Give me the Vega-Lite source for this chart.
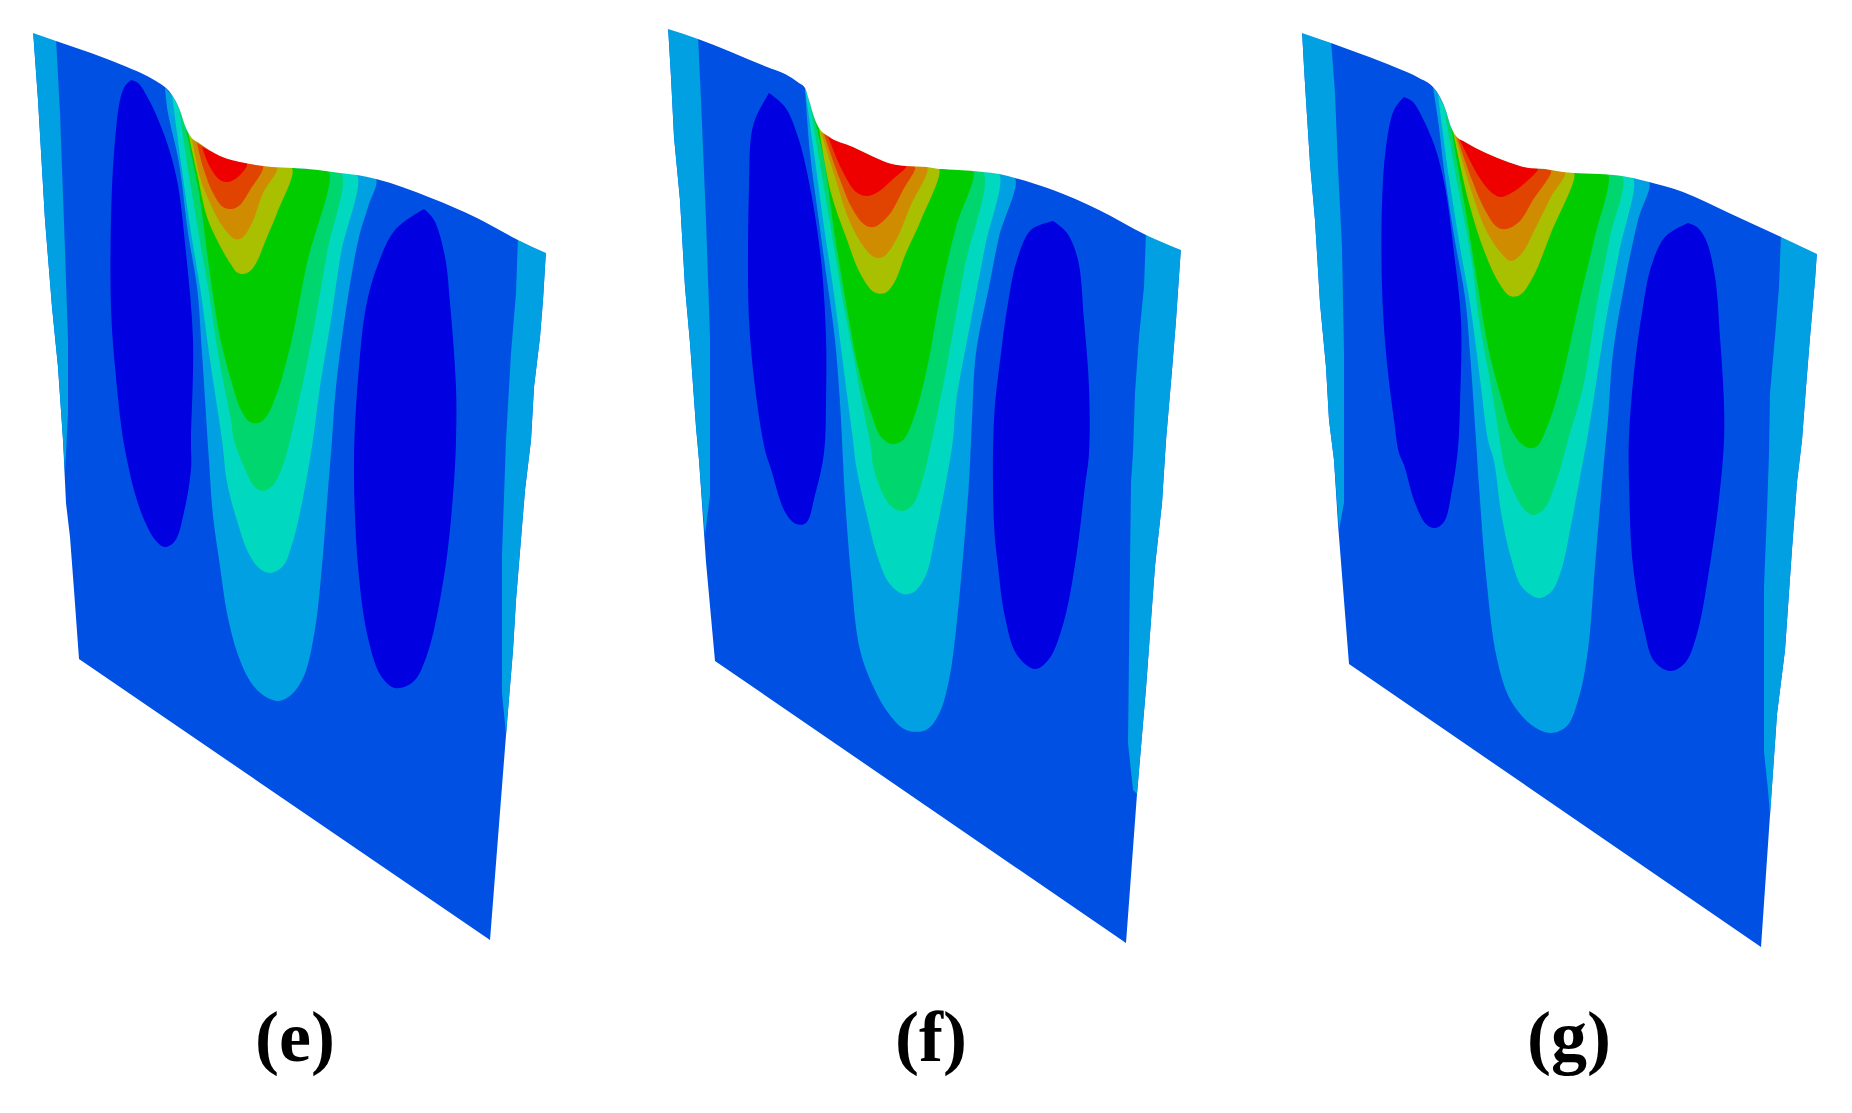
{"$schema":"https://vega.github.io/schema/vega-lite/v6.json","autosize":{"type":"fit","contains":"padding"},"width":1852,"height":1113,"padding":0,"background":"#ffffff","config":{"view":{"stroke":null}},
"data":{"values":[
{"p":"e0","b":"B","x":33,"y":30},{"p":"e0","b":"B","x":56,"y":38},{"p":"e0","b":"B","x":91,"y":50},{"p":"e0","b":"B","x":127,"y":64},{"p":"e0","b":"B","x":145,"y":72},{"p":"e0","b":"B","x":159,"y":80},{"p":"e0","b":"B","x":166,"y":85},{"p":"e0","b":"B","x":172,"y":92},{"p":"e0","b":"B","x":179,"y":105},{"p":"e0","b":"B","x":186,"y":125},{"p":"e0","b":"B","x":191,"y":134},{"p":"e0","b":"B","x":199,"y":140},{"p":"e0","b":"B","x":220,"y":153},{"p":"e0","b":"B","x":245,"y":160},{"p":"e0","b":"B","x":272,"y":164},{"p":"e0","b":"B","x":293,"y":165},{"p":"e0","b":"B","x":318,"y":167},{"p":"e0","b":"B","x":340,"y":170},{"p":"e0","b":"B","x":357,"y":172},{"p":"e0","b":"B","x":376,"y":176},{"p":"e0","b":"B","x":431,"y":195},{"p":"e0","b":"B","x":477,"y":215},{"p":"e0","b":"B","x":518,"y":237},{"p":"e0","b":"B","x":546,"y":250},{"p":"e0","b":"B","x":543,"y":300},{"p":"e0","b":"B","x":540,"y":337},{"p":"e0","b":"B","x":534,"y":387},{"p":"e0","b":"B","x":531,"y":440},{"p":"e0","b":"B","x":525,"y":490},{"p":"e0","b":"B","x":516,"y":600},{"p":"e0","b":"B","x":513,"y":650},{"p":"e0","b":"B","x":506,"y":735},{"p":"e0","b":"B","x":490,"y":940},{"p":"e0","b":"B","x":79,"y":659},{"p":"e0","b":"B","x":74,"y":590},{"p":"e0","b":"B","x":70,"y":537},{"p":"e0","b":"B","x":66,"y":503},{"p":"e0","b":"B","x":63,"y":440},{"p":"e0","b":"B","x":58,"y":367},{"p":"e0","b":"B","x":52,"y":307},{"p":"e0","b":"B","x":45,"y":220},{"p":"e0","b":"B","x":38,"y":100},
{"p":"e1","b":"L","x":33,"y":30},{"p":"e1","b":"L","x":56,"y":38},{"p":"e1","b":"L","x":60,"y":113},{"p":"e1","b":"L","x":65,"y":250},{"p":"e1","b":"L","x":68,"y":340},{"p":"e1","b":"L","x":68,"y":413},{"p":"e1","b":"L","x":66,"y":453},{"p":"e1","b":"L","x":65,"y":472},{"p":"e1","b":"L","x":63,"y":440},{"p":"e1","b":"L","x":58,"y":367},{"p":"e1","b":"L","x":52,"y":307},{"p":"e1","b":"L","x":45,"y":220},{"p":"e1","b":"L","x":38,"y":100},
{"p":"e2","b":"L","x":518,"y":237},{"p":"e2","b":"L","x":546,"y":250},{"p":"e2","b":"L","x":543,"y":300},{"p":"e2","b":"L","x":540,"y":337},{"p":"e2","b":"L","x":534,"y":387},{"p":"e2","b":"L","x":531,"y":440},{"p":"e2","b":"L","x":525,"y":490},{"p":"e2","b":"L","x":516,"y":600},{"p":"e2","b":"L","x":513,"y":650},{"p":"e2","b":"L","x":506,"y":735},{"p":"e2","b":"L","x":502,"y":693},{"p":"e2","b":"L","x":502,"y":554},{"p":"e2","b":"L","x":506,"y":440},{"p":"e2","b":"L","x":511,"y":353},{"p":"e2","b":"L","x":516,"y":293},
{"p":"e3","b":"D","x":131,"y":80},{"p":"e3","b":"D","x":138,"y":83},{"p":"e3","b":"D","x":149,"y":100},{"p":"e3","b":"D","x":165,"y":137},{"p":"e3","b":"D","x":177,"y":180},{"p":"e3","b":"D","x":186,"y":253},{"p":"e3","b":"D","x":193,"y":340},{"p":"e3","b":"D","x":191,"y":440},{"p":"e3","b":"D","x":191,"y":469},{"p":"e3","b":"D","x":184,"y":512},{"p":"e3","b":"D","x":175,"y":541},{"p":"e3","b":"D","x":165,"y":547},{"p":"e3","b":"D","x":156,"y":541},{"p":"e3","b":"D","x":141,"y":512},{"p":"e3","b":"D","x":125,"y":450},{"p":"e3","b":"D","x":115,"y":367},{"p":"e3","b":"D","x":111,"y":307},{"p":"e3","b":"D","x":111,"y":220},{"p":"e3","b":"D","x":114,"y":153},{"p":"e3","b":"D","x":120,"y":100},{"p":"e3","b":"D","x":125,"y":86},{"p":"e3","b":"D","x":131,"y":80},
{"p":"e4","b":"D","x":424,"y":209},{"p":"e4","b":"D","x":395,"y":230},{"p":"e4","b":"D","x":377,"y":267},{"p":"e4","b":"D","x":366,"y":307},{"p":"e4","b":"D","x":359,"y":367},{"p":"e4","b":"D","x":354,"y":460},{"p":"e4","b":"D","x":358,"y":566},{"p":"e4","b":"D","x":368,"y":638},{"p":"e4","b":"D","x":381,"y":676},{"p":"e4","b":"D","x":395,"y":688},{"p":"e4","b":"D","x":413,"y":682},{"p":"e4","b":"D","x":427,"y":655},{"p":"e4","b":"D","x":445,"y":570},{"p":"e4","b":"D","x":454,"y":482},{"p":"e4","b":"D","x":456,"y":440},{"p":"e4","b":"D","x":456,"y":387},{"p":"e4","b":"D","x":450,"y":303},{"p":"e4","b":"D","x":445,"y":257},{"p":"e4","b":"D","x":434,"y":220},{"p":"e4","b":"D","x":424,"y":209},
{"p":"e5","b":"L","x":165,"y":88},{"p":"e5","b":"L","x":168,"y":113},{"p":"e5","b":"L","x":179,"y":163},{"p":"e5","b":"L","x":188,"y":233},{"p":"e5","b":"L","x":197,"y":287},{"p":"e5","b":"L","x":202,"y":353},{"p":"e5","b":"L","x":209,"y":460},{"p":"e5","b":"L","x":213,"y":516},{"p":"e5","b":"L","x":220,"y":566},{"p":"e5","b":"L","x":227,"y":613},{"p":"e5","b":"L","x":238,"y":655},{"p":"e5","b":"L","x":252,"y":684},{"p":"e5","b":"L","x":266,"y":697},{"p":"e5","b":"L","x":279,"y":701},{"p":"e5","b":"L","x":291,"y":695},{"p":"e5","b":"L","x":304,"y":676},{"p":"e5","b":"L","x":315,"y":629},{"p":"e5","b":"L","x":322,"y":566},{"p":"e5","b":"L","x":327,"y":503},{"p":"e5","b":"L","x":332,"y":440},{"p":"e5","b":"L","x":336,"y":387},{"p":"e5","b":"L","x":347,"y":303},{"p":"e5","b":"L","x":359,"y":237},{"p":"e5","b":"L","x":368,"y":207},{"p":"e5","b":"L","x":376,"y":179},{"p":"e5","b":"L","x":357,"y":175},{"p":"e5","b":"L","x":340,"y":173},{"p":"e5","b":"L","x":318,"y":170},{"p":"e5","b":"L","x":293,"y":168},{"p":"e5","b":"L","x":272,"y":167},{"p":"e5","b":"L","x":245,"y":163},{"p":"e5","b":"L","x":220,"y":156},{"p":"e5","b":"L","x":199,"y":143},{"p":"e5","b":"L","x":191,"y":137},{"p":"e5","b":"L","x":186,"y":128},{"p":"e5","b":"L","x":179,"y":108},{"p":"e5","b":"L","x":172,"y":95},
{"p":"e6","b":"C","x":172,"y":95},{"p":"e6","b":"C","x":181,"y":163},{"p":"e6","b":"C","x":191,"y":233},{"p":"e6","b":"C","x":200,"y":287},{"p":"e6","b":"C","x":209,"y":353},{"p":"e6","b":"C","x":222,"y":440},{"p":"e6","b":"C","x":227,"y":482},{"p":"e6","b":"C","x":238,"y":524},{"p":"e6","b":"C","x":249,"y":554},{"p":"e6","b":"C","x":259,"y":568},{"p":"e6","b":"C","x":270,"y":573},{"p":"e6","b":"C","x":283,"y":566},{"p":"e6","b":"C","x":293,"y":541},{"p":"e6","b":"C","x":302,"y":503},{"p":"e6","b":"C","x":311,"y":453},{"p":"e6","b":"C","x":313,"y":440},{"p":"e6","b":"C","x":320,"y":387},{"p":"e6","b":"C","x":331,"y":320},{"p":"e6","b":"C","x":341,"y":253},{"p":"e6","b":"C","x":357,"y":175},{"p":"e6","b":"C","x":340,"y":173},{"p":"e6","b":"C","x":318,"y":170},{"p":"e6","b":"C","x":293,"y":168},{"p":"e6","b":"C","x":272,"y":167},{"p":"e6","b":"C","x":245,"y":163},{"p":"e6","b":"C","x":220,"y":156},{"p":"e6","b":"C","x":199,"y":143},{"p":"e6","b":"C","x":191,"y":137},{"p":"e6","b":"C","x":186,"y":128},{"p":"e6","b":"C","x":179,"y":108},
{"p":"e7","b":"M","x":179,"y":108},{"p":"e7","b":"M","x":191,"y":187},{"p":"e7","b":"M","x":202,"y":253},{"p":"e7","b":"M","x":209,"y":293},{"p":"e7","b":"M","x":218,"y":353},{"p":"e7","b":"M","x":231,"y":420},{"p":"e7","b":"M","x":234,"y":440},{"p":"e7","b":"M","x":245,"y":469},{"p":"e7","b":"M","x":254,"y":486},{"p":"e7","b":"M","x":263,"y":491},{"p":"e7","b":"M","x":274,"y":484},{"p":"e7","b":"M","x":283,"y":465},{"p":"e7","b":"M","x":290,"y":440},{"p":"e7","b":"M","x":309,"y":353},{"p":"e7","b":"M","x":327,"y":253},{"p":"e7","b":"M","x":341,"y":173},{"p":"e7","b":"M","x":318,"y":170},{"p":"e7","b":"M","x":293,"y":168},{"p":"e7","b":"M","x":272,"y":167},{"p":"e7","b":"M","x":245,"y":163},{"p":"e7","b":"M","x":220,"y":156},{"p":"e7","b":"M","x":199,"y":143},{"p":"e7","b":"M","x":191,"y":137},{"p":"e7","b":"M","x":186,"y":128},
{"p":"e8","b":"V","x":186,"y":130},{"p":"e8","b":"V","x":199,"y":193},{"p":"e8","b":"V","x":209,"y":267},{"p":"e8","b":"V","x":220,"y":337},{"p":"e8","b":"V","x":231,"y":380},{"p":"e8","b":"V","x":241,"y":410},{"p":"e8","b":"V","x":250,"y":422},{"p":"e8","b":"V","x":258,"y":423},{"p":"e8","b":"V","x":266,"y":417},{"p":"e8","b":"V","x":277,"y":393},{"p":"e8","b":"V","x":291,"y":343},{"p":"e8","b":"V","x":307,"y":263},{"p":"e8","b":"V","x":329,"y":172},{"p":"e8","b":"V","x":318,"y":170},{"p":"e8","b":"V","x":293,"y":168},{"p":"e8","b":"V","x":272,"y":167},{"p":"e8","b":"V","x":245,"y":163},{"p":"e8","b":"V","x":220,"y":156},{"p":"e8","b":"V","x":199,"y":143},{"p":"e8","b":"V","x":191,"y":137},
{"p":"e9","b":"Y","x":188,"y":132},{"p":"e9","b":"Y","x":197,"y":173},{"p":"e9","b":"Y","x":207,"y":217},{"p":"e9","b":"Y","x":217,"y":240},{"p":"e9","b":"Y","x":230,"y":263},{"p":"e9","b":"Y","x":238,"y":273},{"p":"e9","b":"Y","x":247,"y":273},{"p":"e9","b":"Y","x":255,"y":265},{"p":"e9","b":"Y","x":267,"y":237},{"p":"e9","b":"Y","x":277,"y":213},{"p":"e9","b":"Y","x":292,"y":168},{"p":"e9","b":"Y","x":272,"y":167},{"p":"e9","b":"Y","x":245,"y":163},{"p":"e9","b":"Y","x":220,"y":156},{"p":"e9","b":"Y","x":199,"y":143},{"p":"e9","b":"Y","x":191,"y":137},
{"p":"ea","b":"O","x":192,"y":138},{"p":"ea","b":"O","x":200,"y":177},{"p":"ea","b":"O","x":210,"y":203},{"p":"ea","b":"O","x":223,"y":227},{"p":"ea","b":"O","x":235,"y":239},{"p":"ea","b":"O","x":242,"y":238},{"p":"ea","b":"O","x":252,"y":223},{"p":"ea","b":"O","x":263,"y":193},{"p":"ea","b":"O","x":277,"y":167},{"p":"ea","b":"O","x":245,"y":163},{"p":"ea","b":"O","x":220,"y":156},{"p":"ea","b":"O","x":199,"y":143},
{"p":"eb","b":"R","x":197,"y":143},{"p":"eb","b":"R","x":203,"y":167},{"p":"eb","b":"R","x":213,"y":193},{"p":"eb","b":"R","x":223,"y":207},{"p":"eb","b":"R","x":232,"y":209},{"p":"eb","b":"R","x":240,"y":205},{"p":"eb","b":"R","x":250,"y":190},{"p":"eb","b":"R","x":263,"y":166},{"p":"eb","b":"R","x":245,"y":163},{"p":"eb","b":"R","x":220,"y":156},
{"p":"ec","b":"X","x":202,"y":147},{"p":"ec","b":"X","x":210,"y":167},{"p":"ec","b":"X","x":220,"y":180},{"p":"ec","b":"X","x":228,"y":182},{"p":"ec","b":"X","x":238,"y":177},{"p":"ec","b":"X","x":247,"y":163},{"p":"ec","b":"X","x":220,"y":156},
{"p":"f0","b":"B","x":668,"y":26},{"p":"f0","b":"B","x":698,"y":36},{"p":"f0","b":"B","x":731,"y":49},{"p":"f0","b":"B","x":767,"y":64},{"p":"f0","b":"B","x":785,"y":71},{"p":"f0","b":"B","x":799,"y":80},{"p":"f0","b":"B","x":805,"y":85},{"p":"f0","b":"B","x":809,"y":97},{"p":"f0","b":"B","x":814,"y":114},{"p":"f0","b":"B","x":819,"y":125},{"p":"f0","b":"B","x":828,"y":133},{"p":"f0","b":"B","x":853,"y":144},{"p":"f0","b":"B","x":874,"y":154},{"p":"f0","b":"B","x":892,"y":161},{"p":"f0","b":"B","x":906,"y":163},{"p":"f0","b":"B","x":927,"y":164},{"p":"f0","b":"B","x":939,"y":166},{"p":"f0","b":"B","x":958,"y":167},{"p":"f0","b":"B","x":983,"y":169},{"p":"f0","b":"B","x":999,"y":171},{"p":"f0","b":"B","x":1015,"y":175},{"p":"f0","b":"B","x":1053,"y":187},{"p":"f0","b":"B","x":1099,"y":207},{"p":"f0","b":"B","x":1146,"y":232},{"p":"f0","b":"B","x":1181,"y":247},{"p":"f0","b":"B","x":1176,"y":320},{"p":"f0","b":"B","x":1172,"y":370},{"p":"f0","b":"B","x":1166,"y":440},{"p":"f0","b":"B","x":1162,"y":503},{"p":"f0","b":"B","x":1155,"y":566},{"p":"f0","b":"B","x":1146,"y":688},{"p":"f0","b":"B","x":1137,"y":794},{"p":"f0","b":"B","x":1126,"y":943},{"p":"f0","b":"B","x":715,"y":661},{"p":"f0","b":"B","x":706,"y":562},{"p":"f0","b":"B","x":699,"y":460},{"p":"f0","b":"B","x":696,"y":427},{"p":"f0","b":"B","x":690,"y":343},{"p":"f0","b":"B","x":685,"y":287},{"p":"f0","b":"B","x":680,"y":200},{"p":"f0","b":"B","x":674,"y":137},{"p":"f0","b":"B","x":671,"y":77},
{"p":"f1","b":"L","x":668,"y":26},{"p":"f1","b":"L","x":698,"y":36},{"p":"f1","b":"L","x":701,"y":100},{"p":"f1","b":"L","x":706,"y":220},{"p":"f1","b":"L","x":710,"y":337},{"p":"f1","b":"L","x":710,"y":495},{"p":"f1","b":"L","x":705,"y":535},{"p":"f1","b":"L","x":702,"y":500},{"p":"f1","b":"L","x":699,"y":460},{"p":"f1","b":"L","x":696,"y":427},{"p":"f1","b":"L","x":690,"y":343},{"p":"f1","b":"L","x":685,"y":287},{"p":"f1","b":"L","x":680,"y":200},{"p":"f1","b":"L","x":674,"y":137},{"p":"f1","b":"L","x":671,"y":77},
{"p":"f2","b":"L","x":1146,"y":232},{"p":"f2","b":"L","x":1181,"y":247},{"p":"f2","b":"L","x":1176,"y":320},{"p":"f2","b":"L","x":1172,"y":370},{"p":"f2","b":"L","x":1166,"y":440},{"p":"f2","b":"L","x":1162,"y":503},{"p":"f2","b":"L","x":1155,"y":566},{"p":"f2","b":"L","x":1146,"y":688},{"p":"f2","b":"L","x":1137,"y":794},{"p":"f2","b":"L","x":1133,"y":790},{"p":"f2","b":"L","x":1128,"y":743},{"p":"f2","b":"L","x":1130,"y":566},{"p":"f2","b":"L","x":1131,"y":482},{"p":"f2","b":"L","x":1133,"y":453},{"p":"f2","b":"L","x":1135,"y":393},{"p":"f2","b":"L","x":1139,"y":337},{"p":"f2","b":"L","x":1144,"y":287},
{"p":"f3","b":"D","x":769,"y":93},{"p":"f3","b":"D","x":756,"y":117},{"p":"f3","b":"D","x":751,"y":137},{"p":"f3","b":"D","x":749,"y":187},{"p":"f3","b":"D","x":748,"y":253},{"p":"f3","b":"D","x":749,"y":320},{"p":"f3","b":"D","x":755,"y":387},{"p":"f3","b":"D","x":765,"y":450},{"p":"f3","b":"D","x":771,"y":469},{"p":"f3","b":"D","x":785,"y":512},{"p":"f3","b":"D","x":796,"y":524},{"p":"f3","b":"D","x":806,"y":523},{"p":"f3","b":"D","x":815,"y":495},{"p":"f3","b":"D","x":824,"y":453},{"p":"f3","b":"D","x":826,"y":400},{"p":"f3","b":"D","x":826,"y":337},{"p":"f3","b":"D","x":821,"y":260},{"p":"f3","b":"D","x":810,"y":187},{"p":"f3","b":"D","x":798,"y":137},{"p":"f3","b":"D","x":785,"y":107},{"p":"f3","b":"D","x":769,"y":93},
{"p":"f4","b":"D","x":1053,"y":221},{"p":"f4","b":"D","x":1031,"y":230},{"p":"f4","b":"D","x":1017,"y":260},{"p":"f4","b":"D","x":1008,"y":303},{"p":"f4","b":"D","x":1001,"y":353},{"p":"f4","b":"D","x":994,"y":420},{"p":"f4","b":"D","x":994,"y":524},{"p":"f4","b":"D","x":998,"y":566},{"p":"f4","b":"D","x":1005,"y":617},{"p":"f4","b":"D","x":1017,"y":655},{"p":"f4","b":"D","x":1035,"y":669},{"p":"f4","b":"D","x":1049,"y":659},{"p":"f4","b":"D","x":1064,"y":621},{"p":"f4","b":"D","x":1076,"y":558},{"p":"f4","b":"D","x":1085,"y":486},{"p":"f4","b":"D","x":1089,"y":453},{"p":"f4","b":"D","x":1089,"y":387},{"p":"f4","b":"D","x":1084,"y":320},{"p":"f4","b":"D","x":1078,"y":260},{"p":"f4","b":"D","x":1067,"y":233},{"p":"f4","b":"D","x":1053,"y":221},
{"p":"f5","b":"L","x":805,"y":88},{"p":"f5","b":"L","x":810,"y":153},{"p":"f5","b":"L","x":817,"y":207},{"p":"f5","b":"L","x":826,"y":273},{"p":"f5","b":"L","x":835,"y":340},{"p":"f5","b":"L","x":840,"y":403},{"p":"f5","b":"L","x":843,"y":460},{"p":"f5","b":"L","x":844,"y":482},{"p":"f5","b":"L","x":851,"y":575},{"p":"f5","b":"L","x":860,"y":650},{"p":"f5","b":"L","x":874,"y":688},{"p":"f5","b":"L","x":889,"y":714},{"p":"f5","b":"L","x":906,"y":730},{"p":"f5","b":"L","x":926,"y":730},{"p":"f5","b":"L","x":939,"y":714},{"p":"f5","b":"L","x":949,"y":680},{"p":"f5","b":"L","x":956,"y":630},{"p":"f5","b":"L","x":964,"y":545},{"p":"f5","b":"L","x":969,"y":482},{"p":"f5","b":"L","x":972,"y":420},{"p":"f5","b":"L","x":976,"y":353},{"p":"f5","b":"L","x":989,"y":287},{"p":"f5","b":"L","x":999,"y":237},{"p":"f5","b":"L","x":1015,"y":178},{"p":"f5","b":"L","x":999,"y":174},{"p":"f5","b":"L","x":983,"y":172},{"p":"f5","b":"L","x":958,"y":170},{"p":"f5","b":"L","x":939,"y":169},{"p":"f5","b":"L","x":927,"y":167},{"p":"f5","b":"L","x":906,"y":166},{"p":"f5","b":"L","x":892,"y":164},{"p":"f5","b":"L","x":874,"y":157},{"p":"f5","b":"L","x":853,"y":147},{"p":"f5","b":"L","x":828,"y":136},{"p":"f5","b":"L","x":819,"y":128},{"p":"f5","b":"L","x":814,"y":117},{"p":"f5","b":"L","x":809,"y":100},
{"p":"f6","b":"C","x":805,"y":88},{"p":"f6","b":"C","x":814,"y":153},{"p":"f6","b":"C","x":824,"y":227},{"p":"f6","b":"C","x":833,"y":287},{"p":"f6","b":"C","x":840,"y":340},{"p":"f6","b":"C","x":846,"y":387},{"p":"f6","b":"C","x":853,"y":440},{"p":"f6","b":"C","x":856,"y":465},{"p":"f6","b":"C","x":867,"y":516},{"p":"f6","b":"C","x":878,"y":558},{"p":"f6","b":"C","x":889,"y":583},{"p":"f6","b":"C","x":903,"y":594},{"p":"f6","b":"C","x":914,"y":592},{"p":"f6","b":"C","x":926,"y":575},{"p":"f6","b":"C","x":935,"y":537},{"p":"f6","b":"C","x":946,"y":482},{"p":"f6","b":"C","x":953,"y":440},{"p":"f6","b":"C","x":956,"y":403},{"p":"f6","b":"C","x":971,"y":320},{"p":"f6","b":"C","x":985,"y":247},{"p":"f6","b":"C","x":999,"y":174},{"p":"f6","b":"C","x":983,"y":172},{"p":"f6","b":"C","x":958,"y":170},{"p":"f6","b":"C","x":939,"y":169},{"p":"f6","b":"C","x":927,"y":167},{"p":"f6","b":"C","x":906,"y":166},{"p":"f6","b":"C","x":892,"y":164},{"p":"f6","b":"C","x":874,"y":157},{"p":"f6","b":"C","x":853,"y":147},{"p":"f6","b":"C","x":828,"y":136},{"p":"f6","b":"C","x":819,"y":128},{"p":"f6","b":"C","x":814,"y":117},{"p":"f6","b":"C","x":809,"y":100},
{"p":"f7","b":"M","x":809,"y":100},{"p":"f7","b":"M","x":821,"y":170},{"p":"f7","b":"M","x":835,"y":253},{"p":"f7","b":"M","x":844,"y":307},{"p":"f7","b":"M","x":853,"y":353},{"p":"f7","b":"M","x":864,"y":413},{"p":"f7","b":"M","x":871,"y":447},{"p":"f7","b":"M","x":873,"y":465},{"p":"f7","b":"M","x":881,"y":490},{"p":"f7","b":"M","x":892,"y":507},{"p":"f7","b":"M","x":903,"y":511},{"p":"f7","b":"M","x":914,"y":503},{"p":"f7","b":"M","x":923,"y":478},{"p":"f7","b":"M","x":931,"y":444},{"p":"f7","b":"M","x":946,"y":370},{"p":"f7","b":"M","x":964,"y":270},{"p":"f7","b":"M","x":983,"y":172},{"p":"f7","b":"M","x":958,"y":170},{"p":"f7","b":"M","x":939,"y":169},{"p":"f7","b":"M","x":927,"y":167},{"p":"f7","b":"M","x":906,"y":166},{"p":"f7","b":"M","x":892,"y":164},{"p":"f7","b":"M","x":874,"y":157},{"p":"f7","b":"M","x":853,"y":147},{"p":"f7","b":"M","x":828,"y":136},{"p":"f7","b":"M","x":819,"y":128},{"p":"f7","b":"M","x":814,"y":117},
{"p":"f8","b":"V","x":814,"y":117},{"p":"f8","b":"V","x":824,"y":160},{"p":"f8","b":"V","x":835,"y":237},{"p":"f8","b":"V","x":849,"y":320},{"p":"f8","b":"V","x":858,"y":367},{"p":"f8","b":"V","x":871,"y":413},{"p":"f8","b":"V","x":881,"y":437},{"p":"f8","b":"V","x":892,"y":444},{"p":"f8","b":"V","x":903,"y":440},{"p":"f8","b":"V","x":914,"y":417},{"p":"f8","b":"V","x":926,"y":373},{"p":"f8","b":"V","x":942,"y":287},{"p":"f8","b":"V","x":956,"y":227},{"p":"f8","b":"V","x":973,"y":171},{"p":"f8","b":"V","x":958,"y":170},{"p":"f8","b":"V","x":939,"y":169},{"p":"f8","b":"V","x":927,"y":167},{"p":"f8","b":"V","x":906,"y":166},{"p":"f8","b":"V","x":892,"y":164},{"p":"f8","b":"V","x":874,"y":157},{"p":"f8","b":"V","x":853,"y":147},{"p":"f8","b":"V","x":828,"y":136},{"p":"f8","b":"V","x":819,"y":128},
{"p":"f9","b":"Y","x":819,"y":128},{"p":"f9","b":"Y","x":831,"y":193},{"p":"f9","b":"Y","x":846,"y":237},{"p":"f9","b":"Y","x":860,"y":273},{"p":"f9","b":"Y","x":874,"y":292},{"p":"f9","b":"Y","x":885,"y":293},{"p":"f9","b":"Y","x":894,"y":283},{"p":"f9","b":"Y","x":906,"y":253},{"p":"f9","b":"Y","x":921,"y":220},{"p":"f9","b":"Y","x":939,"y":169},{"p":"f9","b":"Y","x":927,"y":167},{"p":"f9","b":"Y","x":906,"y":166},{"p":"f9","b":"Y","x":892,"y":164},{"p":"f9","b":"Y","x":874,"y":157},{"p":"f9","b":"Y","x":853,"y":147},{"p":"f9","b":"Y","x":828,"y":136},
{"p":"fa","b":"O","x":821,"y":132},{"p":"fa","b":"O","x":835,"y":177},{"p":"fa","b":"O","x":849,"y":220},{"p":"fa","b":"O","x":864,"y":247},{"p":"fa","b":"O","x":874,"y":257},{"p":"fa","b":"O","x":883,"y":257},{"p":"fa","b":"O","x":896,"y":240},{"p":"fa","b":"O","x":910,"y":207},{"p":"fa","b":"O","x":927,"y":167},{"p":"fa","b":"O","x":906,"y":166},{"p":"fa","b":"O","x":892,"y":164},{"p":"fa","b":"O","x":874,"y":157},{"p":"fa","b":"O","x":853,"y":147},{"p":"fa","b":"O","x":828,"y":136},
{"p":"fb","b":"R","x":824,"y":134},{"p":"fb","b":"R","x":839,"y":177},{"p":"fb","b":"R","x":853,"y":210},{"p":"fb","b":"R","x":865,"y":225},{"p":"fb","b":"R","x":874,"y":227},{"p":"fb","b":"R","x":889,"y":215},{"p":"fb","b":"R","x":903,"y":190},{"p":"fb","b":"R","x":915,"y":167},{"p":"fb","b":"R","x":906,"y":166},{"p":"fb","b":"R","x":892,"y":164},{"p":"fb","b":"R","x":874,"y":157},{"p":"fb","b":"R","x":853,"y":147},{"p":"fb","b":"R","x":828,"y":136},
{"p":"fc","b":"X","x":828,"y":136},{"p":"fc","b":"X","x":842,"y":170},{"p":"fc","b":"X","x":856,"y":192},{"p":"fc","b":"X","x":867,"y":196},{"p":"fc","b":"X","x":878,"y":192},{"p":"fc","b":"X","x":892,"y":180},{"p":"fc","b":"X","x":906,"y":166},{"p":"fc","b":"X","x":892,"y":164},{"p":"fc","b":"X","x":874,"y":157},{"p":"fc","b":"X","x":853,"y":147},
{"p":"g0","b":"B","x":1302,"y":30},{"p":"g0","b":"B","x":1331,"y":40},{"p":"g0","b":"B","x":1361,"y":51},{"p":"g0","b":"B","x":1397,"y":65},{"p":"g0","b":"B","x":1419,"y":75},{"p":"g0","b":"B","x":1433,"y":84},{"p":"g0","b":"B","x":1440,"y":94},{"p":"g0","b":"B","x":1445,"y":105},{"p":"g0","b":"B","x":1451,"y":124},{"p":"g0","b":"B","x":1456,"y":133},{"p":"g0","b":"B","x":1465,"y":139},{"p":"g0","b":"B","x":1486,"y":150},{"p":"g0","b":"B","x":1508,"y":159},{"p":"g0","b":"B","x":1529,"y":165},{"p":"g0","b":"B","x":1545,"y":166},{"p":"g0","b":"B","x":1563,"y":169},{"p":"g0","b":"B","x":1574,"y":170},{"p":"g0","b":"B","x":1599,"y":171},{"p":"g0","b":"B","x":1622,"y":173},{"p":"g0","b":"B","x":1633,"y":175},{"p":"g0","b":"B","x":1649,"y":179},{"p":"g0","b":"B","x":1683,"y":189},{"p":"g0","b":"B","x":1729,"y":210},{"p":"g0","b":"B","x":1781,"y":234},{"p":"g0","b":"B","x":1817,"y":251},{"p":"g0","b":"B","x":1815,"y":280},{"p":"g0","b":"B","x":1810,"y":337},{"p":"g0","b":"B","x":1806,"y":387},{"p":"g0","b":"B","x":1802,"y":440},{"p":"g0","b":"B","x":1797,"y":482},{"p":"g0","b":"B","x":1792,"y":549},{"p":"g0","b":"B","x":1785,"y":650},{"p":"g0","b":"B","x":1777,"y":714},{"p":"g0","b":"B","x":1770,"y":815},{"p":"g0","b":"B","x":1761,"y":947},{"p":"g0","b":"B","x":1349,"y":664},{"p":"g0","b":"B","x":1338,"y":524},{"p":"g0","b":"B","x":1334,"y":460},{"p":"g0","b":"B","x":1329,"y":420},{"p":"g0","b":"B","x":1326,"y":367},{"p":"g0","b":"B","x":1320,"y":303},{"p":"g0","b":"B","x":1315,"y":220},{"p":"g0","b":"B","x":1310,"y":163},{"p":"g0","b":"B","x":1306,"y":100},{"p":"g0","b":"B","x":1304,"y":67},
{"p":"g1","b":"L","x":1302,"y":30},{"p":"g1","b":"L","x":1331,"y":40},{"p":"g1","b":"L","x":1335,"y":93},{"p":"g1","b":"L","x":1338,"y":167},{"p":"g1","b":"L","x":1342,"y":247},{"p":"g1","b":"L","x":1344,"y":353},{"p":"g1","b":"L","x":1344,"y":503},{"p":"g1","b":"L","x":1339,"y":530},{"p":"g1","b":"L","x":1334,"y":460},{"p":"g1","b":"L","x":1329,"y":420},{"p":"g1","b":"L","x":1326,"y":367},{"p":"g1","b":"L","x":1320,"y":303},{"p":"g1","b":"L","x":1315,"y":220},{"p":"g1","b":"L","x":1310,"y":163},{"p":"g1","b":"L","x":1306,"y":100},{"p":"g1","b":"L","x":1304,"y":67},
{"p":"g2","b":"L","x":1781,"y":234},{"p":"g2","b":"L","x":1817,"y":251},{"p":"g2","b":"L","x":1815,"y":280},{"p":"g2","b":"L","x":1810,"y":337},{"p":"g2","b":"L","x":1806,"y":387},{"p":"g2","b":"L","x":1802,"y":440},{"p":"g2","b":"L","x":1797,"y":482},{"p":"g2","b":"L","x":1792,"y":549},{"p":"g2","b":"L","x":1785,"y":650},{"p":"g2","b":"L","x":1777,"y":714},{"p":"g2","b":"L","x":1770,"y":815},{"p":"g2","b":"L","x":1768,"y":790},{"p":"g2","b":"L","x":1764,"y":752},{"p":"g2","b":"L","x":1764,"y":587},{"p":"g2","b":"L","x":1767,"y":512},{"p":"g2","b":"L","x":1769,"y":453},{"p":"g2","b":"L","x":1770,"y":393},{"p":"g2","b":"L","x":1775,"y":337},{"p":"g2","b":"L","x":1779,"y":287},
{"p":"g3","b":"D","x":1404,"y":97},{"p":"g3","b":"D","x":1394,"y":110},{"p":"g3","b":"D","x":1386,"y":147},{"p":"g3","b":"D","x":1382,"y":203},{"p":"g3","b":"D","x":1382,"y":287},{"p":"g3","b":"D","x":1386,"y":353},{"p":"g3","b":"D","x":1394,"y":420},{"p":"g3","b":"D","x":1399,"y":453},{"p":"g3","b":"D","x":1404,"y":465},{"p":"g3","b":"D","x":1415,"y":503},{"p":"g3","b":"D","x":1426,"y":524},{"p":"g3","b":"D","x":1435,"y":528},{"p":"g3","b":"D","x":1444,"y":522},{"p":"g3","b":"D","x":1452,"y":490},{"p":"g3","b":"D","x":1458,"y":448},{"p":"g3","b":"D","x":1460,"y":403},{"p":"g3","b":"D","x":1461,"y":320},{"p":"g3","b":"D","x":1454,"y":253},{"p":"g3","b":"D","x":1445,"y":187},{"p":"g3","b":"D","x":1435,"y":147},{"p":"g3","b":"D","x":1422,"y":117},{"p":"g3","b":"D","x":1413,"y":102},{"p":"g3","b":"D","x":1404,"y":97},
{"p":"g4","b":"D","x":1688,"y":223},{"p":"g4","b":"D","x":1665,"y":237},{"p":"g4","b":"D","x":1651,"y":267},{"p":"g4","b":"D","x":1642,"y":313},{"p":"g4","b":"D","x":1635,"y":363},{"p":"g4","b":"D","x":1629,"y":437},{"p":"g4","b":"D","x":1629,"y":482},{"p":"g4","b":"D","x":1633,"y":566},{"p":"g4","b":"D","x":1644,"y":629},{"p":"g4","b":"D","x":1654,"y":661},{"p":"g4","b":"D","x":1670,"y":671},{"p":"g4","b":"D","x":1685,"y":663},{"p":"g4","b":"D","x":1697,"y":634},{"p":"g4","b":"D","x":1711,"y":558},{"p":"g4","b":"D","x":1720,"y":490},{"p":"g4","b":"D","x":1724,"y":440},{"p":"g4","b":"D","x":1724,"y":403},{"p":"g4","b":"D","x":1720,"y":337},{"p":"g4","b":"D","x":1715,"y":277},{"p":"g4","b":"D","x":1706,"y":240},{"p":"g4","b":"D","x":1697,"y":227},{"p":"g4","b":"D","x":1688,"y":223},
{"p":"g5","b":"L","x":1433,"y":87},{"p":"g5","b":"L","x":1438,"y":120},{"p":"g5","b":"L","x":1445,"y":177},{"p":"g5","b":"L","x":1456,"y":247},{"p":"g5","b":"L","x":1465,"y":297},{"p":"g5","b":"L","x":1470,"y":353},{"p":"g5","b":"L","x":1476,"y":440},{"p":"g5","b":"L","x":1479,"y":486},{"p":"g5","b":"L","x":1486,"y":575},{"p":"g5","b":"L","x":1497,"y":659},{"p":"g5","b":"L","x":1511,"y":701},{"p":"g5","b":"L","x":1533,"y":726},{"p":"g5","b":"L","x":1551,"y":733},{"p":"g5","b":"L","x":1567,"y":726},{"p":"g5","b":"L","x":1579,"y":697},{"p":"g5","b":"L","x":1588,"y":650},{"p":"g5","b":"L","x":1595,"y":566},{"p":"g5","b":"L","x":1601,"y":495},{"p":"g5","b":"L","x":1606,"y":440},{"p":"g5","b":"L","x":1608,"y":420},{"p":"g5","b":"L","x":1613,"y":353},{"p":"g5","b":"L","x":1624,"y":287},{"p":"g5","b":"L","x":1638,"y":220},{"p":"g5","b":"L","x":1649,"y":182},{"p":"g5","b":"L","x":1633,"y":178},{"p":"g5","b":"L","x":1622,"y":176},{"p":"g5","b":"L","x":1599,"y":174},{"p":"g5","b":"L","x":1574,"y":173},{"p":"g5","b":"L","x":1563,"y":172},{"p":"g5","b":"L","x":1545,"y":169},{"p":"g5","b":"L","x":1529,"y":168},{"p":"g5","b":"L","x":1508,"y":162},{"p":"g5","b":"L","x":1486,"y":153},{"p":"g5","b":"L","x":1465,"y":142},{"p":"g5","b":"L","x":1456,"y":136},{"p":"g5","b":"L","x":1451,"y":127},{"p":"g5","b":"L","x":1445,"y":108},{"p":"g5","b":"L","x":1440,"y":97},
{"p":"g6","b":"C","x":1438,"y":95},{"p":"g6","b":"C","x":1449,"y":177},{"p":"g6","b":"C","x":1460,"y":247},{"p":"g6","b":"C","x":1469,"y":297},{"p":"g6","b":"C","x":1476,"y":347},{"p":"g6","b":"C","x":1481,"y":387},{"p":"g6","b":"C","x":1488,"y":440},{"p":"g6","b":"C","x":1494,"y":461},{"p":"g6","b":"C","x":1501,"y":512},{"p":"g6","b":"C","x":1511,"y":558},{"p":"g6","b":"C","x":1522,"y":587},{"p":"g6","b":"C","x":1538,"y":598},{"p":"g6","b":"C","x":1551,"y":592},{"p":"g6","b":"C","x":1561,"y":571},{"p":"g6","b":"C","x":1572,"y":520},{"p":"g6","b":"C","x":1583,"y":461},{"p":"g6","b":"C","x":1587,"y":440},{"p":"g6","b":"C","x":1594,"y":397},{"p":"g6","b":"C","x":1606,"y":320},{"p":"g6","b":"C","x":1619,"y":253},{"p":"g6","b":"C","x":1633,"y":178},{"p":"g6","b":"C","x":1622,"y":176},{"p":"g6","b":"C","x":1599,"y":174},{"p":"g6","b":"C","x":1574,"y":173},{"p":"g6","b":"C","x":1563,"y":172},{"p":"g6","b":"C","x":1545,"y":169},{"p":"g6","b":"C","x":1529,"y":168},{"p":"g6","b":"C","x":1508,"y":162},{"p":"g6","b":"C","x":1486,"y":153},{"p":"g6","b":"C","x":1465,"y":142},{"p":"g6","b":"C","x":1456,"y":136},{"p":"g6","b":"C","x":1451,"y":127},{"p":"g6","b":"C","x":1445,"y":108},
{"p":"g7","b":"M","x":1444,"y":108},{"p":"g7","b":"M","x":1458,"y":187},{"p":"g7","b":"M","x":1472,"y":263},{"p":"g7","b":"M","x":1479,"y":320},{"p":"g7","b":"M","x":1490,"y":380},{"p":"g7","b":"M","x":1501,"y":447},{"p":"g7","b":"M","x":1504,"y":465},{"p":"g7","b":"M","x":1513,"y":490},{"p":"g7","b":"M","x":1524,"y":509},{"p":"g7","b":"M","x":1533,"y":515},{"p":"g7","b":"M","x":1544,"y":509},{"p":"g7","b":"M","x":1556,"y":482},{"p":"g7","b":"M","x":1568,"y":440},{"p":"g7","b":"M","x":1583,"y":387},{"p":"g7","b":"M","x":1597,"y":303},{"p":"g7","b":"M","x":1610,"y":237},{"p":"g7","b":"M","x":1622,"y":176},{"p":"g7","b":"M","x":1599,"y":174},{"p":"g7","b":"M","x":1574,"y":173},{"p":"g7","b":"M","x":1563,"y":172},{"p":"g7","b":"M","x":1545,"y":169},{"p":"g7","b":"M","x":1529,"y":168},{"p":"g7","b":"M","x":1508,"y":162},{"p":"g7","b":"M","x":1486,"y":153},{"p":"g7","b":"M","x":1465,"y":142},{"p":"g7","b":"M","x":1456,"y":136},{"p":"g7","b":"M","x":1451,"y":127},
{"p":"g8","b":"V","x":1451,"y":127},{"p":"g8","b":"V","x":1465,"y":207},{"p":"g8","b":"V","x":1478,"y":287},{"p":"g8","b":"V","x":1488,"y":347},{"p":"g8","b":"V","x":1501,"y":397},{"p":"g8","b":"V","x":1513,"y":433},{"p":"g8","b":"V","x":1526,"y":447},{"p":"g8","b":"V","x":1536,"y":447},{"p":"g8","b":"V","x":1547,"y":427},{"p":"g8","b":"V","x":1561,"y":383},{"p":"g8","b":"V","x":1579,"y":303},{"p":"g8","b":"V","x":1594,"y":240},{"p":"g8","b":"V","x":1608,"y":175},{"p":"g8","b":"V","x":1599,"y":174},{"p":"g8","b":"V","x":1574,"y":173},{"p":"g8","b":"V","x":1563,"y":172},{"p":"g8","b":"V","x":1545,"y":169},{"p":"g8","b":"V","x":1529,"y":168},{"p":"g8","b":"V","x":1508,"y":162},{"p":"g8","b":"V","x":1486,"y":153},{"p":"g8","b":"V","x":1465,"y":142},{"p":"g8","b":"V","x":1456,"y":136},
{"p":"g9","b":"Y","x":1453,"y":131},{"p":"g9","b":"Y","x":1469,"y":203},{"p":"g9","b":"Y","x":1485,"y":253},{"p":"g9","b":"Y","x":1499,"y":283},{"p":"g9","b":"Y","x":1510,"y":296},{"p":"g9","b":"Y","x":1520,"y":295},{"p":"g9","b":"Y","x":1533,"y":277},{"p":"g9","b":"Y","x":1551,"y":233},{"p":"g9","b":"Y","x":1574,"y":173},{"p":"g9","b":"Y","x":1563,"y":172},{"p":"g9","b":"Y","x":1545,"y":169},{"p":"g9","b":"Y","x":1529,"y":168},{"p":"g9","b":"Y","x":1508,"y":162},{"p":"g9","b":"Y","x":1486,"y":153},{"p":"g9","b":"Y","x":1465,"y":142},{"p":"g9","b":"Y","x":1456,"y":136},
{"p":"ga","b":"O","x":1455,"y":135},{"p":"ga","b":"O","x":1472,"y":193},{"p":"ga","b":"O","x":1486,"y":230},{"p":"ga","b":"O","x":1501,"y":253},{"p":"ga","b":"O","x":1511,"y":261},{"p":"ga","b":"O","x":1522,"y":253},{"p":"ga","b":"O","x":1536,"y":227},{"p":"ga","b":"O","x":1551,"y":197},{"p":"ga","b":"O","x":1565,"y":172},{"p":"ga","b":"O","x":1545,"y":169},{"p":"ga","b":"O","x":1529,"y":168},{"p":"ga","b":"O","x":1508,"y":162},{"p":"ga","b":"O","x":1486,"y":153},{"p":"ga","b":"O","x":1465,"y":142},
{"p":"gb","b":"R","x":1457,"y":137},{"p":"gb","b":"R","x":1472,"y":180},{"p":"gb","b":"R","x":1485,"y":210},{"p":"gb","b":"R","x":1497,"y":227},{"p":"gb","b":"R","x":1506,"y":229},{"p":"gb","b":"R","x":1519,"y":222},{"p":"gb","b":"R","x":1533,"y":200},{"p":"gb","b":"R","x":1551,"y":171},{"p":"gb","b":"R","x":1545,"y":169},{"p":"gb","b":"R","x":1529,"y":168},{"p":"gb","b":"R","x":1508,"y":162},{"p":"gb","b":"R","x":1486,"y":153},{"p":"gb","b":"R","x":1465,"y":142},
{"p":"gc","b":"X","x":1459,"y":138},{"p":"gc","b":"X","x":1479,"y":177},{"p":"gc","b":"X","x":1492,"y":193},{"p":"gc","b":"X","x":1501,"y":197},{"p":"gc","b":"X","x":1513,"y":192},{"p":"gc","b":"X","x":1526,"y":182},{"p":"gc","b":"X","x":1538,"y":169},{"p":"gc","b":"X","x":1529,"y":168},{"p":"gc","b":"X","x":1508,"y":162},{"p":"gc","b":"X","x":1486,"y":153},{"p":"gc","b":"X","x":1465,"y":142}
]},
"encoding":{
"x":{"field":"x","type":"quantitative","axis":null,"scale":{"domain":[0,1852],"nice":false,"zero":false}},
"y":{"field":"y","type":"quantitative","axis":null,"scale":{"domain":[0,1113],"reverse":true,"nice":false,"zero":false}}
},
"layer":[
{"transform":[{"filter":{"field":"p","oneOf":["e0","e1","e2","f0","f1","f2","g0","g1","g2"]}}],
"mark":{"type":"line","interpolate":"linear","strokeWidth":0},
"encoding":{"detail":{"field":"p"},"order":{"value":null},
"fill":{"field":"b","type":"nominal","legend":null,"scale":{"domain":["B","L","D","C","M","V","Y","O","R","X"],"range":["#0050E4","#00A0E2","#0000E0","#00D8C0","#00D66E","#00CC00","#A8C000","#D08C00","#E04400","#EE0000"]}}}},
{"transform":[{"filter":{"not":{"field":"p","oneOf":["e0","e1","e2","f0","f1","f2","g0","g1","g2"]}}}],
"mark":{"type":"line","interpolate":"catmull-rom","strokeWidth":0},
"encoding":{"detail":{"field":"p"},"order":{"value":null},
"fill":{"field":"b","type":"nominal","legend":null,"scale":{"domain":["B","L","D","C","M","V","Y","O","R","X"],"range":["#0050E4","#00A0E2","#0000E0","#00D8C0","#00D66E","#00CC00","#A8C000","#D08C00","#E04400","#EE0000"]}}}},
{"data":{"values":[
{"m":"e","x":33,"y":33},{"m":"e","x":56,"y":41},{"m":"e","x":91,"y":53},{"m":"e","x":127,"y":67},{"m":"e","x":145,"y":75},{"m":"e","x":159,"y":83},{"m":"e","x":166,"y":88},{"m":"e","x":172,"y":95},{"m":"e","x":179,"y":108},{"m":"e","x":186,"y":128},{"m":"e","x":191,"y":137},{"m":"e","x":199,"y":143},{"m":"e","x":220,"y":156},{"m":"e","x":245,"y":163},{"m":"e","x":272,"y":167},{"m":"e","x":293,"y":168},{"m":"e","x":318,"y":170},{"m":"e","x":340,"y":173},{"m":"e","x":357,"y":175},{"m":"e","x":376,"y":179},{"m":"e","x":431,"y":198},{"m":"e","x":477,"y":218},{"m":"e","x":518,"y":240},{"m":"e","x":546,"y":253},
{"m":"f","x":668,"y":29},{"m":"f","x":698,"y":39},{"m":"f","x":731,"y":52},{"m":"f","x":767,"y":67},{"m":"f","x":785,"y":74},{"m":"f","x":799,"y":83},{"m":"f","x":805,"y":88},{"m":"f","x":809,"y":100},{"m":"f","x":814,"y":117},{"m":"f","x":819,"y":128},{"m":"f","x":828,"y":136},{"m":"f","x":853,"y":147},{"m":"f","x":874,"y":157},{"m":"f","x":892,"y":164},{"m":"f","x":906,"y":166},{"m":"f","x":927,"y":167},{"m":"f","x":939,"y":169},{"m":"f","x":958,"y":170},{"m":"f","x":983,"y":172},{"m":"f","x":999,"y":174},{"m":"f","x":1015,"y":178},{"m":"f","x":1053,"y":190},{"m":"f","x":1099,"y":210},{"m":"f","x":1146,"y":235},{"m":"f","x":1181,"y":250},
{"m":"g","x":1302,"y":33},{"m":"g","x":1331,"y":43},{"m":"g","x":1361,"y":54},{"m":"g","x":1397,"y":68},{"m":"g","x":1419,"y":78},{"m":"g","x":1433,"y":87},{"m":"g","x":1440,"y":97},{"m":"g","x":1445,"y":108},{"m":"g","x":1451,"y":127},{"m":"g","x":1456,"y":136},{"m":"g","x":1465,"y":142},{"m":"g","x":1486,"y":153},{"m":"g","x":1508,"y":162},{"m":"g","x":1529,"y":168},{"m":"g","x":1545,"y":169},{"m":"g","x":1563,"y":172},{"m":"g","x":1574,"y":173},{"m":"g","x":1599,"y":174},{"m":"g","x":1622,"y":176},{"m":"g","x":1633,"y":178},{"m":"g","x":1649,"y":182},{"m":"g","x":1683,"y":192},{"m":"g","x":1729,"y":213},{"m":"g","x":1781,"y":237},{"m":"g","x":1817,"y":254}
]},
"mark":{"type":"area","interpolate":"monotone","fill":"#ffffff","stroke":null},
"encoding":{"detail":{"field":"m"},"y2":{"datum":0}}},
{"data":{"values":[{"label":"(e)","x":295,"y":1061},{"label":"(f)","x":931,"y":1061},{"label":"(g)","x":1569,"y":1061}]},
"mark":{"type":"text","font":"Liberation Serif","fontWeight":"bold","fontSize":72,"baseline":"alphabetic","align":"center","color":"#000000"},
"encoding":{"text":{"field":"label"}}}
]}
